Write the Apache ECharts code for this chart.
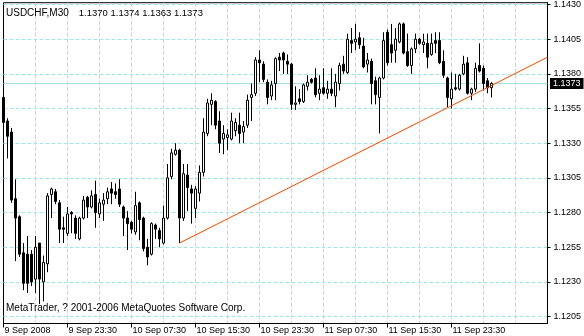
<!DOCTYPE html>
<html><head><meta charset="utf-8">
<script src="https://cdn.jsdelivr.net/npm/echarts@6/dist/echarts.min.js"></script>
<style>html,body{margin:0;padding:0;background:#fff}#c{width:584px;height:336px}</style>
</head><body><div id="c"></div>
<script>
const symbol = 'USDCHF,M30';
const copyright = 'MetaTrader, ? 2001-2006 MetaQuotes Software Corp.';
const startTime = '2008-09-09T15:30:00Z';
const barMinutes = 30;
const slotCount = 137;
const monthNames = ['Jan','Feb','Mar','Apr','May','Jun','Jul','Aug','Sep','Oct','Nov','Dec'];
// each row: [open, close, low, high]
const ohlc = [
[1.1363,1.1345,1.1340,1.1364],[1.1346,1.1335,1.1319,1.1348],[1.1338,1.1289,1.1287,1.1341],[1.1290,1.1276,1.1245,1.1304],
[1.1277,1.1250,1.1248,1.1278],[1.1251,1.1229,1.1224,1.1258],[1.1250,1.1229,1.1222,1.1263],[1.1250,1.1230,1.1227,1.1253],
[1.1232,1.1255,1.1222,1.1263],[1.1258,1.1232,1.1214,1.1258],[1.1230,1.1244,1.1216,1.1249],[1.1243,1.1292,1.1237,1.1294],
[1.1293,1.1297,1.1276,1.1298],[1.1295,1.1288,1.1286,1.1297],[1.1287,1.1268,1.1258,1.1289],[1.1269,1.1268,1.1258,1.1277],
[1.1265,1.1279,1.1263,1.1284],[1.1280,1.1279,1.1265,1.1281],[1.1276,1.1265,1.1261,1.1278],[1.1261,1.1276,1.1260,1.1277],
[1.1276,1.1289,1.1275,1.1292],[1.1291,1.1284,1.1276,1.1292],[1.1284,1.1292,1.1283,1.1296],[1.1293,1.1280,1.1269,1.1303],
[1.1279,1.1287,1.1276,1.1290],[1.1286,1.1289,1.1274,1.1294],[1.1290,1.1295,1.1286,1.1298],[1.1297,1.1294,1.1286,1.1302],
[1.1295,1.1293,1.1290,1.1301],[1.1297,1.1286,1.1284,1.1304],[1.1284,1.1276,1.1263,1.1285],[1.1276,1.1272,1.1253,1.1281],
[1.1273,1.1268,1.1265,1.1274],[1.1266,1.1285,1.1264,1.1295],[1.1287,1.1275,1.1260,1.1288],[1.1276,1.1254,1.1252,1.1277],
[1.1255,1.1248,1.1242,1.1261],[1.1250,1.1272,1.1249,1.1273],[1.1271,1.1268,1.1261,1.1272],[1.1267,1.1261,1.1255,1.1269],
[1.1258,1.1276,1.1257,1.1285],[1.1276,1.1305,1.1275,1.1315],[1.1306,1.1323,1.1304,1.1326],[1.1322,1.1325,1.1321,1.1330],
[1.1325,1.1276,1.1258,1.1326],[1.1276,1.1308,1.1274,1.1315],[1.1307,1.1298,1.1281,1.1315],[1.1297,1.1294,1.1272,1.1300],
[1.1283,1.1297,1.1276,1.1299],[1.1294,1.1309,1.1288,1.1314],[1.1309,1.1338,1.1306,1.1348],[1.1337,1.1359,1.1335,1.1362],
[1.1358,1.1361,1.1343,1.1366],[1.1360,1.1343,1.1340,1.1361],[1.1346,1.1330,1.1323,1.1353],[1.1333,1.1337,1.1322,1.1343],
[1.1334,1.1336,1.1325,1.1340],[1.1333,1.1346,1.1332,1.1352],[1.1339,1.1345,1.1335,1.1348],[1.1343,1.1337,1.1330,1.1352],
[1.1338,1.1342,1.1330,1.1346],[1.1343,1.1361,1.1341,1.1365],[1.1363,1.1365,1.1346,1.1373],[1.1366,1.1390,1.1364,1.1392],
[1.1390,1.1388,1.1374,1.1397],[1.1387,1.1376,1.1374,1.1389],[1.1374,1.1363,1.1358,1.1376],[1.1364,1.1372,1.1361,1.1375],
[1.1373,1.1391,1.1361,1.1392],[1.1392,1.1390,1.1382,1.1395],[1.1395,1.1390,1.1380,1.1396],[1.1389,1.1387,1.1380,1.1394],
[1.1387,1.1358,1.1354,1.1388],[1.1358,1.1359,1.1354,1.1371],[1.1362,1.1360,1.1358,1.1369],[1.1360,1.1372,1.1359,1.1373],
[1.1371,1.1374,1.1368,1.1379],[1.1376,1.1374,1.1373,1.1377],[1.1377,1.1365,1.1363,1.1384],[1.1366,1.1369,1.1361,1.1379],
[1.1370,1.1366,1.1365,1.1384],[1.1366,1.1369,1.1362,1.1375],[1.1369,1.1366,1.1364,1.1384],[1.1364,1.1374,1.1356,1.1380],
[1.1373,1.1386,1.1368,1.1388],[1.1387,1.1382,1.1380,1.1393],[1.1381,1.1405,1.1380,1.1409],[1.1404,1.1402,1.1395,1.1413],
[1.1403,1.1405,1.1397,1.1416],[1.1406,1.1401,1.1398,1.1410],[1.1400,1.1385,1.1384,1.1406],[1.1387,1.1390,1.1381,1.1395],
[1.1389,1.1373,1.1358,1.1391],[1.1375,1.1365,1.1358,1.1378],[1.1363,1.1377,1.1337,1.1378],[1.1377,1.1404,1.1376,1.1410],
[1.1410,1.1388,1.1386,1.1412],[1.1401,1.1395,1.1388,1.1416],[1.1397,1.1405,1.1388,1.1413],[1.1403,1.1416,1.1402,1.1417],
[1.1416,1.1395,1.1394,1.1417],[1.1396,1.1386,1.1385,1.1409],[1.1386,1.1398,1.1380,1.1399],[1.1398,1.1405,1.1395,1.1409],
[1.1405,1.1402,1.1401,1.1406],[1.1401,1.1403,1.1395,1.1409],[1.1402,1.1392,1.1384,1.1409],[1.1394,1.1402,1.1393,1.1409],
[1.1404,1.1402,1.1395,1.1410],[1.1404,1.1388,1.1387,1.1410],[1.1389,1.1379,1.1377,1.1397],[1.1377,1.1363,1.1356,1.1378],
[1.1362,1.1369,1.1355,1.1381],[1.1370,1.1369,1.1368,1.1380],[1.1369,1.1379,1.1368,1.1380],[1.1380,1.1387,1.1379,1.1393],
[1.1388,1.1366,1.1365,1.1392],[1.1366,1.1369,1.1361,1.1370],[1.1369,1.1384,1.1367,1.1388],[1.1386,1.1382,1.1381,1.1402],
[1.1384,1.1373,1.1368,1.1386],[1.1375,1.1370,1.1366,1.1377],[1.1370,1.1373,1.1363,1.1374]
];
const yTickValues = [1.1205,1.1230,1.1255,1.1280,1.1305,1.1330,1.1355,1.1380,1.1405,1.1430];
const yMin = 1.1200, yMax = 1.14313;
const trendPoints = [[44, 1.1258], [136, 1.1392]];
const bidPrice = 1.1373;

const pad = n => (n < 10 ? '0' : '') + n;
const categories = [];
for (let i = 0; i < slotCount; i++) {
  const d = new Date(Date.parse(startTime) + i * barMinutes * 60000);
  categories.push(d.getUTCDate() + ' ' + monthNames[d.getUTCMonth()] + ' ' + pad(d.getUTCHours()) + ':' + pad(d.getUTCMinutes()));
}
const firstLabel = (() => { const d = new Date(Date.parse(startTime)); return d.getUTCDate() + ' ' + monthNames[d.getUTCMonth()] + ' ' + d.getUTCFullYear(); })();
const last = ohlc[ohlc.length - 1];
const f4 = v => v.toFixed(4);
const font = 'Liberation Sans, Arial, sans-serif';
const gridColor = '#a4e6e6';

const chart = echarts.init(document.getElementById('c'), null, {renderer: 'canvas'});
chart.setOption({
  animation: false,
  backgroundColor: '#fff',
  title: [
    {text: '{a|' + symbol + '}  {b|' + [last[0], last[3], last[2], last[1]].map(f4).join(' ') + '}',
     left: 6, top: 4, padding: 0,
     textStyle: {fontWeight: 'normal', color: '#000', fontFamily: font,
       rich: {a: {fontSize: 10, fontFamily: font, color: '#000', lineHeight: 12},
              b: {fontSize: 9.5, fontFamily: font, color: '#000', lineHeight: 12}}}},
    {text: copyright, left: 6, top: 303, padding: 0,
     textStyle: {fontSize: 10, fontWeight: 'normal', color: '#000', fontFamily: font}}
  ],
  grid: {left: 3.5, right: 36.5, top: 2.5, bottom: 12.5, show: true, borderColor: '#000', borderWidth: 1, backgroundColor: '#fff'},
  xAxis: {
    type: 'category', data: categories, boundaryGap: false,
    axisLine: {show: true, lineStyle: {color: '#000', width: 1}},
    axisTick: {show: true, length: 4, interval: (i) => i % 16 === 0 && i <= 112, lineStyle: {color: '#000'}},
    axisLabel: {show: true, interval: (i) => i % 16 === 0 && i <= 112, align: 'left', margin: 3,
      padding: [0, 0, 0, 1], color: '#000', fontSize: 9, fontFamily: font,
      formatter: (v, i) => i === 0 ? firstLabel : v},
    splitLine: {show: true, interval: (i) => i % 8 === 0 && i > 0, lineStyle: {color: gridColor, type: [4, 2], width: 1}}
  },
  yAxis: {
    type: 'value', position: 'right', min: yMin, max: yMax,
    axisLine: {show: true, lineStyle: {color: '#000', width: 1}},
    axisTick: {show: true, length: 3, customValues: yTickValues, lineStyle: {color: '#000'}},
    axisLabel: {show: true, customValues: yTickValues, margin: 6, color: '#000', fontSize: 9, fontFamily: font, formatter: v => f4(v)},
    splitLine: {show: true, lineStyle: {color: gridColor, type: [4, 2], width: 1}}
  },
  series: [
    {type: 'candlestick', data: ohlc, barWidth: 3, z: 4,
     itemStyle: {color: '#fff', color0: '#000', borderColor: '#000', borderColor0: '#000', borderWidth: 1}},
    {type: 'line', data: trendPoints, symbol: 'none', lineStyle: {color: '#ff4500', width: 1}, z: 5,
     markLine: {silent: true, symbol: ['none', 'none'], animation: false, precision: 4, z: 2,
       lineStyle: {color: '#a0e0e0', type: 'solid', width: 1},
       label: {show: true, position: 'end', distance: 2.5, formatter: () => f4(bidPrice),
         color: '#fff', backgroundColor: '#000', fontSize: 9, fontFamily: font, padding: [1, 3, 1, 3], lineHeight: 9},
       data: [{yAxis: bidPrice}]}}
  ]
});
</script></body></html>
